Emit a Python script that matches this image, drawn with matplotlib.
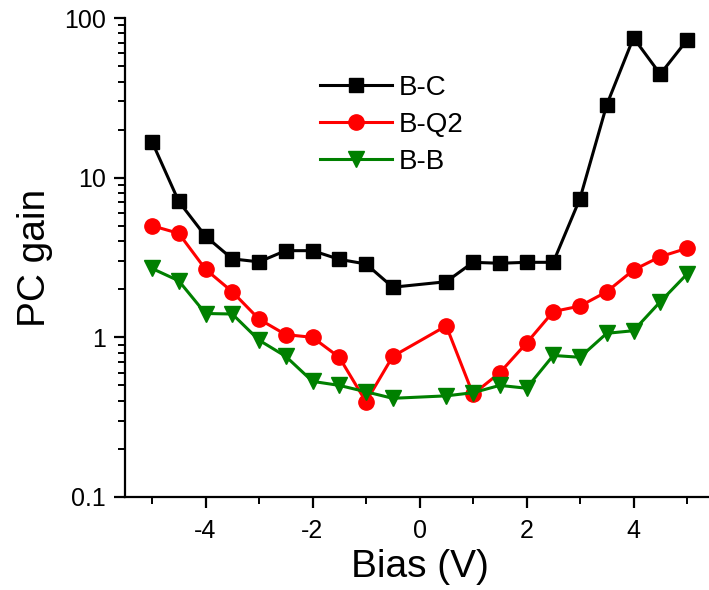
import numpy as np
import matplotlib
matplotlib.use("Agg")
import matplotlib.pyplot as plt
from matplotlib.ticker import LogLocator, FixedLocator, NullFormatter

plt.rcParams['font.family'] = ['Liberation Sans', 'DejaVu Sans']
plt.rcParams['axes.unicode_minus'] = False

bias = [-5, -4.5, -4, -3.5, -3, -2.5, -2, -1.5, -1, -0.5,
        0.5, 1, 1.5, 2, 2.5, 3, 3.5, 4, 4.5, 5]

gain_bc = [16.8, 7.1, 4.3, 3.1, 2.97, 3.49, 3.49, 3.08, 2.88, 2.06,
           2.23, 2.95, 2.91, 2.95, 2.95, 7.4, 28.6, 75.2, 44.5, 72.7]
gain_bq2 = [5.0, 4.48, 2.67, 1.93, 1.30, 1.04, 1.0, 0.75, 0.395, 0.76,
            1.18, 0.44, 0.60, 0.92, 1.45, 1.57, 1.93, 2.64, 3.20, 3.61]
gain_bb = [2.7, 2.26, 1.41, 1.40, 0.96, 0.76, 0.53, 0.50, 0.456, 0.415,
           0.43, 0.45, 0.50, 0.48, 0.77, 0.75, 1.06, 1.10, 1.67, 2.49]

fig = plt.figure(figsize=(7.09, 5.90), dpi=100)
ax = fig.add_axes([125.25 / 709, 93 / 590, 588.5 / 709, 479 / 590])

ax.plot(bias, gain_bc, color='black', lw=2.2, marker='s', ms=10.5, label='B-C')
ax.plot(bias, gain_bq2, color='#ff0000', lw=2.2, marker='o', ms=11, label='B-Q2')
ax.plot(bias, gain_bb, color='#008000', lw=2.2, marker='v', ms=12, label='B-B')

ax.set_yscale('log')
ax.set_ylim(0.1, 100)
ax.set_xlim(-5.5, 5.5)

ax.yaxis.set_major_locator(FixedLocator([0.1, 1, 10, 100]))
ax.yaxis.set_major_formatter(plt.FuncFormatter(lambda v, p: f"{v:g}"))
ax.yaxis.set_minor_locator(LogLocator(base=10, subs=np.arange(2, 10)))
ax.yaxis.set_minor_formatter(NullFormatter())
ax.set_xticks([-4, -2, 0, 2, 4])
ax.set_xticks([-5, -3, -1, 1, 3, 5], minor=True)

for side in ['top', 'right']:
    ax.spines[side].set_visible(False)
for side in ['left', 'bottom']:
    ax.spines[side].set_linewidth(1.6)

ax.tick_params(which='major', direction='out', length=8, width=1.6,
               labelsize=18, pad=6)
ax.tick_params(which='minor', direction='out', length=5, width=1.4)
ax.tick_params(axis='x', which='major', pad=8)

ax.set_xlabel('Bias (V)', fontsize=28, labelpad=4)
ax.set_ylabel('PC gain', fontsize=28, labelpad=8)

ax.legend(loc='upper left', bbox_to_anchor=(0.331, 0.882), frameon=False,
          fontsize=20, handlelength=2.6, handletextpad=0.25,
          labelspacing=0.4, borderpad=0, borderaxespad=0)

fig.savefig('out.png', dpi=100)
